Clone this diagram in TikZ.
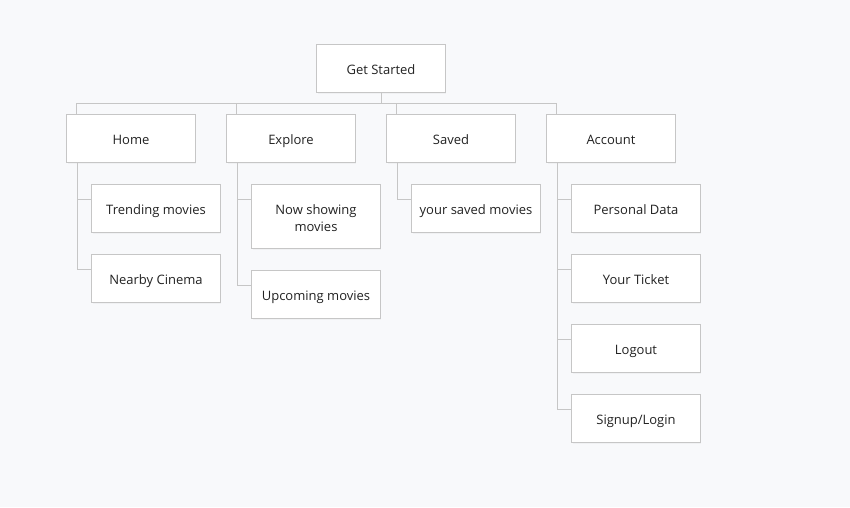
\documentclass[tikz,border=0pt]{standalone}
\usepackage{fontspec}
\setmainfont{Open Sans}
\usepackage{tikz}
\usetikzlibrary{positioning}
\usetikzlibrary{shadows}

\definecolor{bgcol}{HTML}{F8F9FB}
\definecolor{edgecol}{HTML}{C6C6C6}
\definecolor{txtcol}{HTML}{222222}

\tikzset{
    page/.style={x=1pt,y=-1pt},
    box/.style={draw=edgecol,line width=0.9pt,fill=white,minimum width=128.5pt,minimum height=48.1pt,
        inner sep=0pt,text=txtcol,align=center,font=\fontsize{13}{17.7}\selectfont,
        text height=12pt,text depth=1pt,
        drop shadow={shadow xshift=1pt,shadow yshift=-1.5pt,opacity=0.06}},
    link/.style={draw=edgecol,line width=0.9pt}
}

\begin{document}
\begin{tikzpicture}[page]
        \fill[bgcol] (0,0) rectangle (850,507);
        \useasboundingbox (0,0) rectangle (850,507);
        \node [box] (start) at (381,68.8) {Get Started};
        \node [box] (home) at (131,138.8) {Home};
        \node [box] (explore) [right=30.6pt of home] {Explore};
        \node [box] (saved) [right=30.6pt of explore] {Saved};
        \node [box] (account) [right=30.6pt of saved] {Account};
        \node [box] (trend) [below=21pt of home.south west,anchor=north west,xshift=25pt] {Trending movies};
        \node [box] (cinema) [below=21pt of trend] {Nearby Cinema};
        \node [box,minimum height=64.1pt,text height=30.8pt] (showing) [below=21pt of explore.south west,anchor=north west,xshift=25pt] {Now showing\\movies};
        \node [box] (upcoming) [below=21pt of showing] {Upcoming movies};
        \node [box] (mysaved) [below=21pt of saved.south west,anchor=north west,xshift=25pt] {your saved movies};
        \node [box] (personal) [below=21pt of account.south west,anchor=north west,xshift=25pt] {Personal Data};
        \node [box] (ticket) [below=21pt of personal] {Your Ticket};
        \node [box] (logout) [below=21pt of ticket] {Logout};
        \node [box] (signup) [below=21pt of logout] {Signup/Login};
        % top level
        \foreach \sect in {home,explore,saved,account}
            \draw [link] (start.south) -- ++(0,10.5) -| ([xshift=10pt]\sect.north west);
        % sub items
        \foreach \sect/\sub in {home/trend,home/cinema,explore/showing,explore/upcoming,saved/mysaved,
                account/personal,account/ticket,account/logout,account/signup}
            \draw [link] ([xshift=11pt]\sect.south west) |- ([yshift=-15pt]\sub.north west);
    \end{tikzpicture}
\end{document}
